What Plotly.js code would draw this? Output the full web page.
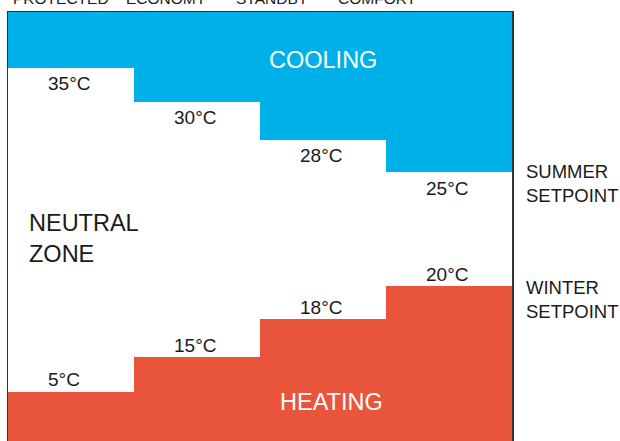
<!DOCTYPE html>
<html>
<head>
<meta charset="utf-8">
<script src="https://cdn.plot.ly/plotly-3.0.1.min.js"></script>
<style>
  html, body { margin: 0; padding: 0; overflow: hidden; background: #ffffff; }
  #chart { width: 620px; height: 441px; }
</style>
</head>
<body>
<div id="chart"></div>
<script>
// ---- data ----
const modes = ["PROTECTED", "ECONOMY", "STANDBY", "COMFORT"];
const coolingTemps = [35, 30, 28, 25];          // °C, cooling starts above
const heatingTemps = [5, 15, 18, 20];           // °C, heating starts below
// schematic level of each step on the 0-100 diagram scale (not to scale in °C)
const coolingLevel = [87.0, 79.1, 70.2, 62.6];
const heatingLevel = [11.5, 19.5, 28.4, 36.1];
const zoneLabels = ["COOLING", "NEUTRAL<br>ZONE", "HEATING"];
const setpointLabels = ["SUMMER<br>SETPOINT", "WINTER<br>SETPOINT"];
const scaleTop = 100;

const BLUE = "#00b1e9";
const RED = "#e8553a";
const INK = "#1a1a1a";
const FONT = "'Liberation Sans', Arial, Helvetica, sans-serif";

const traces = [
  {
    type: "bar",
    name: "Cooling",
    x: modes,
    base: coolingLevel,
    y: coolingLevel.map(v => scaleTop - v),
    marker: { color: BLUE, line: { width: 0 } },
    hoverinfo: "skip",
    showlegend: false
  },
  {
    type: "bar",
    name: "Heating",
    x: modes,
    base: heatingLevel.map(() => 0),
    y: heatingLevel,
    marker: { color: RED, line: { width: 0 } },
    hoverinfo: "skip",
    showlegend: false
  }
];

const annotations = [];
// temperature labels
modes.forEach((m, i) => {
  annotations.push({
    x: m, y: coolingLevel[i], xref: "x", yref: "y",
    text: coolingTemps[i] + "°C", showarrow: false,
    xanchor: "left", yanchor: "middle", xshift: -25, yshift: -16,
    font: { family: FONT, size: 19, color: INK }
  });
  annotations.push({
    x: m, y: heatingLevel[i], xref: "x", yref: "y",
    text: heatingTemps[i] + "°C", showarrow: false,
    xanchor: "left", yanchor: "middle", xshift: -25, yshift: 12,
    font: { family: FONT, size: 19, color: INK }
  });
  // mode labels along the top (partly outside the picture)
  annotations.push({
    x: (i + 0.5) / modes.length * 0.837, y: 1, xref: "paper", yref: "paper",
    text: modes[i], showarrow: false,
    xanchor: "center", yanchor: "middle", yshift: 14,
    font: { family: FONT, size: 15.5, color: INK }
  });
});
// zone labels
annotations.push({
  x: modes[2], y: coolingLevel[0], xref: "x", yref: "y",
  text: zoneLabels[0], showarrow: false, xanchor: "center", yanchor: "middle",
  yshift: 8,
  font: { family: FONT, size: 23.5, color: "#ffffff" }
});
annotations.push({
  x: 0.037, y: 47.1, xref: "paper", yref: "y",
  text: zoneLabels[1], showarrow: false, xanchor: "left", yanchor: "middle",
  align: "left",
  font: { family: FONT, size: 23.5, color: INK }
});
annotations.push({
  x: modes[2], y: heatingLevel[0], xref: "x", yref: "y",
  text: zoneLabels[2], showarrow: false, xanchor: "center", yanchor: "middle",
  xshift: 8, yshift: -10,
  font: { family: FONT, size: 23.5, color: "#ffffff" }
});
// setpoint labels
annotations.push({
  x: 1, y: coolingLevel[3], xref: "paper", yref: "y",
  text: setpointLabels[0], showarrow: false, xanchor: "left", yanchor: "middle",
  align: "left", xshift: 12, yshift: -11,
  font: { family: FONT, size: 18.5, color: INK }
});
annotations.push({
  x: 1, y: heatingLevel[3], xref: "paper", yref: "y",
  text: setpointLabels[1], showarrow: false, xanchor: "left", yanchor: "middle",
  align: "left", xshift: 12, yshift: -13,
  font: { family: FONT, size: 18.5, color: INK }
});

const layout = {
  width: 620, height: 441,
  margin: { l: 8, r: 108, t: 12, b: 0, pad: 0 },
  paper_bgcolor: "#ffffff",
  plot_bgcolor: "#ffffff",
  barmode: "overlay",
  bargap: 0,
  showlegend: false,
  hovermode: false,
  xaxis: {
    type: "category", range: [-0.5, 3.5], side: "top",
    showline: true, linecolor: "#333333", linewidth: 1.5, mirror: false,
    showticklabels: false, ticks: "", showgrid: false, zeroline: false, fixedrange: true
  },
  yaxis: {
    range: [0, scaleTop],
    showline: true, linecolor: "#333333", linewidth: 1.5, mirror: true,
    showticklabels: false, ticks: "", showgrid: false, zeroline: false, fixedrange: true
  },
  annotations: annotations
};

Plotly.newPlot("chart", traces, layout, { displayModeBar: false, staticPlot: true });
</script>
</body>
</html>
